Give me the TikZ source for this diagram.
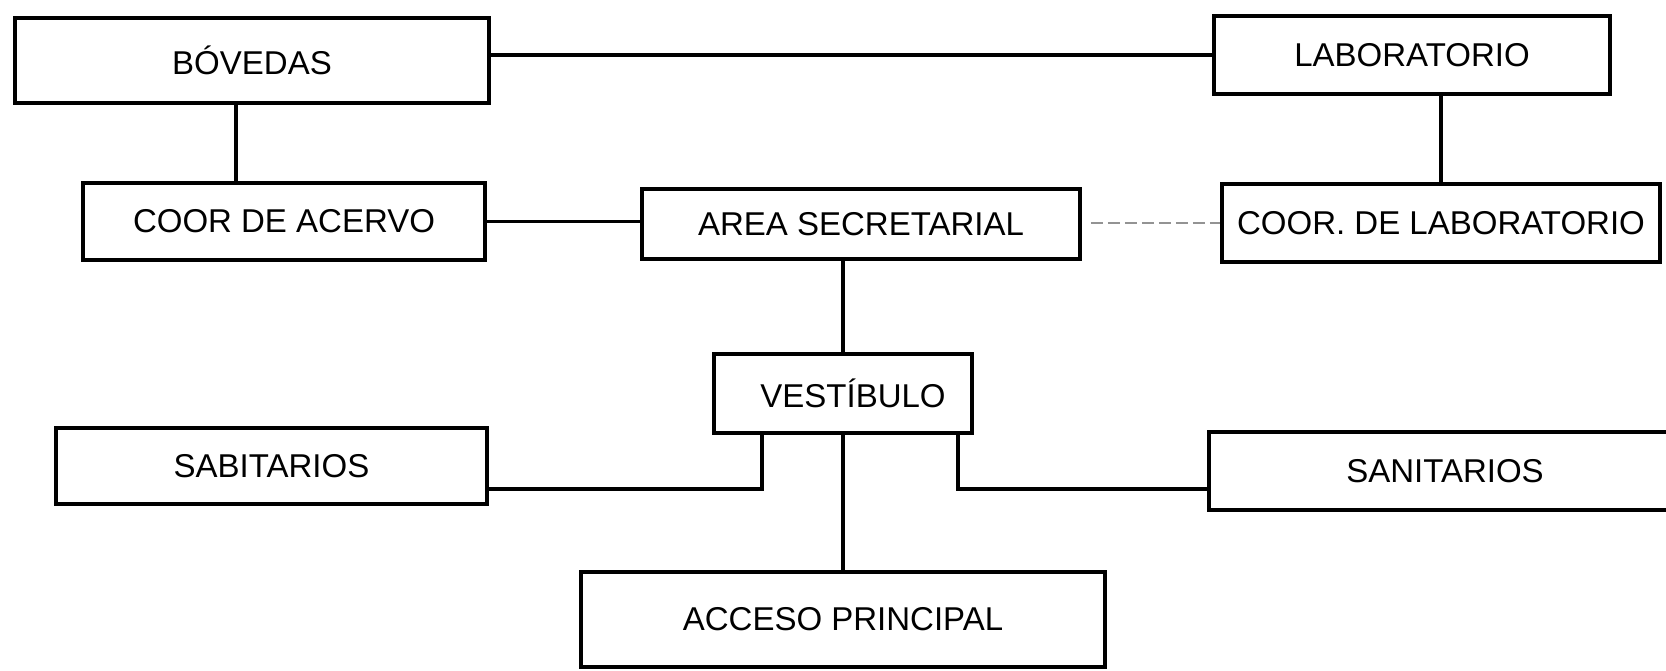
\documentclass[tikz,border=0pt]{standalone}
\usepackage{fontspec}
\setmainfont{Liberation Sans}
\begin{document}
\begin{tikzpicture}[x=1pt,y=-1pt,
  box/.style={draw=black, line width=3.8pt, rectangle, inner sep=0pt,
    font=\fontsize{33}{38}\selectfont},
  link/.style={draw=black, line width=3.8pt},
  faint/.style={draw=gray!85, line width=1.2pt, dashed, dash pattern=on 12pt off 5pt}]
\useasboundingbox (0,0) rectangle (1666,670);
\clip (0,0) rectangle (1666,670);
\node[box, minimum width=474pt, minimum height=85pt] (bov) at (252,60.5) {BÓVEDAS\hspace{16pt}};
\node[box, minimum width=396pt, minimum height=78pt] (lab) at (1412,55) {LABORATORIO\hspace{20pt}};
\node[box, minimum width=402pt, minimum height=77pt] (coorac) at (284,221.5) {COOR DE ACERVO\hspace{20pt}};
\node[box, minimum width=438pt, minimum height=70pt] (area) at (861,224) {AREA SECRETARIAL\hspace{8pt}};
\node[box, minimum width=438pt, minimum height=78pt] (coorlab) at (1441,223) {COOR. DE LABORATORIO};
\node[box, minimum width=258pt, minimum height=79pt] (vest) at (843,393.5) {\hspace{20pt}VESTÍBULO};
\node[box, minimum width=431pt, minimum height=76pt] (sab) at (271.5,466) {SABITARIOS\hspace{30pt}};
\node[box, minimum width=472pt, minimum height=78pt] (san) at (1445,471) {SANITARIOS\hspace{20pt}};
\node[box, minimum width=524pt, minimum height=95pt] (acc) at (843,619.5) {ACCESO PRINCIPAL};

\draw[link] (lab.west -| bov.east) -- (lab.west);
\draw[link] ([xshift=-16pt]bov.south) -- ([xshift=-16pt]bov.south |- coorac.north);
\draw[link] (lab.south -| coorlab.north) -- (coorlab.north);
\draw[link] (coorac.east) -- (coorac.east -| area.west);
\draw[faint, shorten <=9pt] (coorlab.west -| area.east) -- (coorlab.west);
\draw[link] (area.south -| vest.north) -- (vest.north);
\draw[link] (vest.south) -- (acc.north);
\draw[link] ([yshift=-23pt]sab.east) -| ([xshift=-81pt]vest.south);
\draw[link] ([xshift=115pt]vest.south) |- ([yshift=-18pt]san.west);
\end{tikzpicture}
\end{document}
